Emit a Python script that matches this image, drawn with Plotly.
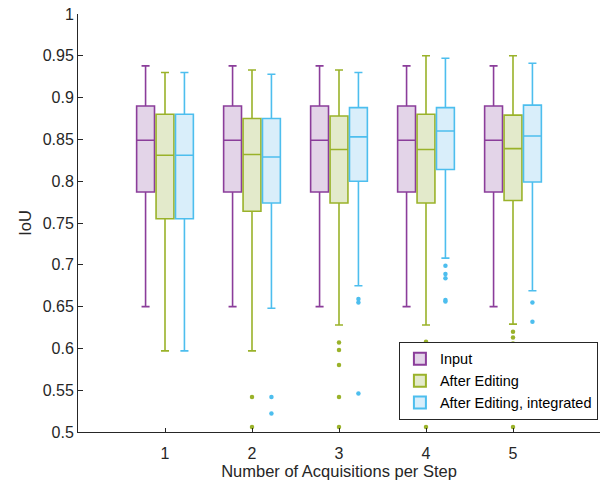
import plotly.graph_objects as go

groups = [1, 2, 3, 4, 5]
series_names = ["Input", "After Editing", "After Editing, integrated"]
y_ticks = [0.5, 0.55, 0.6, 0.65, 0.7, 0.75, 0.8, 0.85, 0.9, 0.95, 1.0]
y_ticktext = ["0.5", "0.55", "0.6", "0.65", "0.7", "0.75", "0.8", "0.85", "0.9", "0.95", "1"]

# Precomputed box statistics
input_lo = [0.650, 0.650, 0.650, 0.650, 0.650]
input_q1 = [0.787, 0.787, 0.787, 0.787, 0.787]
input_med = [0.849, 0.849, 0.849, 0.849, 0.849]
input_q3 = [0.890, 0.890, 0.890, 0.890, 0.890]
input_hi = [0.938, 0.938, 0.938, 0.938, 0.938]
input_out = [[], [], [], [], []]

edit_lo = [0.597, 0.597, 0.628, 0.628, 0.629]
edit_q1 = [0.755, 0.764, 0.774, 0.774, 0.777]
edit_med = [0.831, 0.832, 0.838, 0.838, 0.839]
edit_q3 = [0.880, 0.875, 0.878, 0.880, 0.879]
edit_hi = [0.930, 0.933, 0.933, 0.950, 0.950]
edit_out = [
    [],
    [0.542, 0.506],
    [0.607, 0.598, 0.580, 0.542, 0.506],
    [0.608, 0.598, 0.506],
    [0.620, 0.613, 0.606, 0.598, 0.506],
]

integ_lo = [0.597, 0.648, 0.675, 0.708, 0.669]
integ_q1 = [0.755, 0.774, 0.800, 0.814, 0.799]
integ_med = [0.831, 0.829, 0.853, 0.860, 0.854]
integ_q3 = [0.880, 0.875, 0.888, 0.888, 0.891]
integ_hi = [0.930, 0.928, 0.930, 0.947, 0.941]
integ_out = [
    [],
    [0.542, 0.522],
    [0.659, 0.655, 0.546],
    [0.699, 0.689, 0.684, 0.658, 0.656],
    [0.655, 0.632],
]

edge_colors = ["#8B3D9A", "#9AB22A", "#4DBEEE"]
fill_colors = ["#E3D4E8", "#E3EACB", "#D9EEFA"]

stats = [
    (input_lo, input_q1, input_med, input_q3, input_hi, input_out),
    (edit_lo, edit_q1, edit_med, edit_q3, edit_hi, edit_out),
    (integ_lo, integ_q1, integ_med, integ_q3, integ_hi, integ_out),
]

BOXGAP = 0.33
BOXGROUPGAP = 0.08
n_series = len(series_names)
slot = (1 - BOXGAP) / n_series  # width of each series slot in data units

fig = go.Figure()
for k, (name, ec, fc, (lo, q1, med, q3, hi, outs)) in enumerate(
        zip(series_names, edge_colors, fill_colors, stats)):
    fig.add_trace(go.Box(
        name=name,
        x=groups,
        q1=q1, median=med, q3=q3, lowerfence=lo, upperfence=hi,
        boxpoints=False,
        line=dict(color=ec, width=1.6),
        fillcolor=fc,
        whiskerwidth=0.45,
        offsetgroup=name,
        legendgroup=name,
    ))
    # outliers placed at the same offset the grouped box layout uses
    shift = slot * (k - (n_series - 1) / 2)
    ox, oy = [], []
    for g, vals in zip(groups, outs):
        for v in vals:
            ox.append(g + shift)
            oy.append(v)
    fig.add_trace(go.Scatter(
        x=ox, y=oy, mode="markers",
        marker=dict(color=ec, size=4.5, line=dict(width=0)),
        showlegend=False, legendgroup=name, hoverinfo="y",
    ))

axis_color = "#262626"
fig.update_layout(
    width=603, height=485,
    margin=dict(l=78, r=3, t=14, b=53),
    paper_bgcolor="white", plot_bgcolor="white",
    boxmode="group", boxgap=BOXGAP, boxgroupgap=BOXGROUPGAP,
    font=dict(family="Liberation Sans, Arial, sans-serif", size=16, color=axis_color),
    showlegend=True,
    legend=dict(
        x=0.996, y=0.029, xanchor="right", yanchor="bottom",
        bgcolor="white", bordercolor=axis_color, borderwidth=1,
        font=dict(size=14.5, color="#000000"),
        tracegroupgap=0, itemsizing="constant",
    ),
    xaxis=dict(
        range=[0, 6], tickvals=groups, ticktext=[str(g) for g in groups],
        showline=True, linecolor=axis_color, linewidth=1,
        ticks="inside", ticklen=4, tickcolor=axis_color,
        ticklabelstandoff=7,
        showgrid=False, zeroline=False, automargin=False,
        title=dict(text="Number of Acquisitions per Step", font=dict(size=16.5), standoff=0),
    ),
    yaxis=dict(
        range=[0.5, 1.0], tickvals=y_ticks, ticktext=y_ticktext,
        showline=True, linecolor=axis_color, linewidth=1,
        ticks="inside", ticklen=5, tickcolor=axis_color,
        showgrid=False, zeroline=False, automargin=False,
        title=dict(text="IoU", font=dict(size=16.5), standoff=6),
    ),
)

fig.write_html(
    "out.html",
    config={"displayModeBar": False},
    post_script="document.body.style.margin='0';",
)
